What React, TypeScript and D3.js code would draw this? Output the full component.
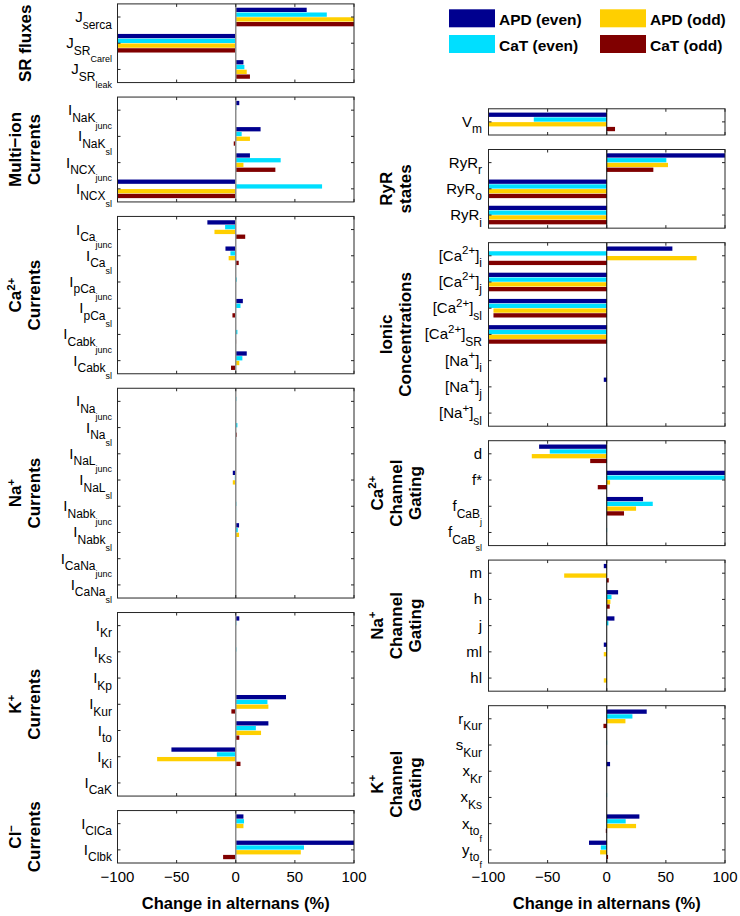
import React from "react";
import * as d3 from "d3";

// ---------- data ----------
const SERIES = ["APD (even)", "CaT (even)", "APD (odd)", "CaT (odd)"];
const X_TICKS = [-100, -50, 0, 50, 100];

const srFluxCats = ["J_{serca}", "J_{SR_{Carel}}", "J_{SR_{leak}}"];
const srFluxVals = [[60, 77, 100, 100], [-100, -100, -100, -100], [6.5, 7.3, 9.3, 12]];

const multiIonCats = ["I_{NaK_{junc}}", "I_{NaK_{sl}}", "I_{NCX_{junc}}", "I_{NCX_{sl}}"];
const multiIonVals = [[3, 0.5, 0, 0], [21, 5, 12, -1.7], [12, 38, 6.5, 33.5], [-100, 73, -100, -100]];

const caCurCats = ["I_{Ca_{junc}}", "I_{Ca_{sl}}", "I_{pCa_{junc}}", "I_{pCa_{sl}}", "I_{Cabk_{junc}}", "I_{Cabk_{sl}}"];
const caCurVals = [[-24, -9, -18, 8], [-8.7, -4.5, -6, 2.5], [0, 0.8, 0, 0], [6, 4, 0, -2.8], [0, 1.4, 0, 0.3], [9.3, 5.6, 3, -4]];

const naCurCats = ["I_{Na_{junc}}", "I_{Na_{sl}}", "I_{NaL_{junc}}", "I_{NaL_{sl}}", "I_{Nabk_{junc}}", "I_{Nabk_{sl}}", "I_{CaNa_{junc}}", "I_{CaNa_{sl}}"];
const naCurVals = [[0, 0.5, 0, 0], [0, 1.4, 0, 0.8], [0, 0, 0, 0], [-2.5, -0.8, -2.5, 0], [0, 0.5, 0, 0], [2.8, 1.7, 2.8, 0], [0, 0, 0, 0], [0, 0, 0, 0]];

const kCurCats = ["I_{Kr}", "I_{Ks}", "I_{Kp}", "I_{Kur}", "I_{to}", "I_{Ki}", "I_{CaK}"];
const kCurVals = [[3, 0.5, 0, 0], [0, 0.5, 0, 0], [0, 0, 0, 0], [42.5, 26.8, 27.6, -3.7], [27.6, 17, 21.4, 3], [-54.4, -16, -66.5, 4], [0, 0, 0, 0]];

const clCurCats = ["I_{ClCa}", "I_{Clbk}"];
const clCurVals = [[6.5, 7, 6.5, 0], [100, 57.7, 55, -10.7]];

const vmCats = ["V_{m}"];
const vmVals = [[-100, -61.7, -100, 7]];

const ryrCats = ["RyR_{r}", "RyR_{o}", "RyR_{i}"];
const ryrVals = [[100, 50.4, 51.8, 39.4], [-100, -100, -100, -100], [-100, -100, -100, -100]];

const ionCats = ["[Ca^{2+}]_{i}", "[Ca^{2+}]_{j}", "[Ca^{2+}]_{sl}", "[Ca^{2+}]_{SR}", "[Na^{+}]_{i}", "[Na^{+}]_{j}", "[Na^{+}]_{sl}"];
const ionVals = [[55.5, -100, 76, -100], [-100, -100, -100, -100], [-100, -100, -95.8, -95.8], [-100, -100, -100, -100], [0, 0, 0, 0], [-2.5, 0, 0, 0], [0, 0, 0, 0]];

const caGateCats = ["d", "f*", "f_{CaB_{j}}", "f_{CaB_{sl}}"];
const caGateVals = [[-57.2, -48.2, -63.4, -14], [100, 100, 2.8, -7.6], [30.7, 38.9, 24.8, 14.6], [0, 0.3, 0, 0]];

const naGateCats = ["m", "h", "j", "ml", "hl"];
const naGateVals = [[-2.5, 0, -36, 1.7], [9.6, 4, 3.1, 2.5], [6.5, 1.4, 0, 0], [-2.5, 0.3, -2.5, 0], [0, 0, -2.5, 0]];

const kGateCats = ["r_{Kur}", "s_{Kur}", "x_{Kr}", "x_{Ks}", "x_{to_{f}}", "y_{to_{f}}"];
const kGateVals = [[33.8, 21.7, 15.8, -2.8], [0, 0.3, 0, 0], [2.8, 0, 0, 0], [0, 0.3, 0, 0], [27.6, 16, 24.8, -0.8], [-15, -5, -5.6, 1.1]];

const leftGroups = [["SR fluxes"], ["Multi\u2212ion", "Currents"], ["Ca^{2+}", "Currents"], ["Na^{+}", "Currents"], ["K^{+}", "Currents"], ["Cl^{\u2212}", "Currents"]];
const rightGroups = [[], ["RyR", "states"], ["Ionic", "Concentrations"], ["Ca^{2+}", "Channel", "Gating"], ["Na^{+}", "Channel", "Gating"], ["K^{+}", "Channel", "Gating"]];

const AXIS_LABEL = "Change in alternans (%)";

// ---------- styles / layout ----------
const COLORS = ["#00008F", "#00DFFF", "#FFCF00", "#800000"];
const FONT = "'Liberation Sans', Arial, Helvetica, sans-serif";
const STEP = 26.22;
const GAP = 14.5;
const BOTTOM = 863;

type Seg = { text: string; level: number };

function parseTex(s: string): Seg[] {
  const out: Seg[] = [];
  function walk(i: number, level: number): number {
    let buf = "";
    const flush = () => {
      if (buf) out.push({ text: buf, level });
      buf = "";
    };
    while (i < s.length) {
      const ch = s[i];
      if (ch === "}") {
        flush();
        return i + 1;
      }
      if (ch === "_" || ch === "^") {
        flush();
        const nl = ch === "_" ? (level >= 0 ? level + 1 : 0) : -1;
        if (s[i + 1] === "{") {
          i = walk(i + 2, nl);
        } else {
          out.push({ text: s[i + 1], level: nl });
          i += 2;
        }
        continue;
      }
      buf += ch;
      i++;
    }
    flush();
    return i;
  }
  walk(0, 0);
  return out;
}

const LEVEL_STYLE: Record<number, { size: number; off: number }> = {
  [-1]: { size: 11.5, off: -6.5 },
  0: { size: 15, off: 0 },
  1: { size: 12, off: 6.5 },
  2: { size: 9, off: 13.5 },
};

function TexText(props: { s: string; x: number; y: number; anchor: string; baseSize?: number; supSize?: number; bold?: boolean; transform?: string }) {
  const segs = parseTex(props.s);
  let prev = 0;
  return (
    <text
      x={props.x}
      y={props.y}
      textAnchor={props.anchor}
      transform={props.transform}
      fontFamily={FONT}
      fontWeight={props.bold ? "bold" : "normal"}
      fill="#000"
    >
      {segs.map((sg, k) => {
        const st = LEVEL_STYLE[sg.level] || LEVEL_STYLE[2];
        let size = st.size;
        if (sg.level === 0 && props.baseSize) size = props.baseSize;
        if (sg.level === -1 && props.supSize) size = props.supSize;
        const dy = st.off - prev;
        prev = st.off;
        return (
          <tspan key={k} dy={dy} fontSize={size}>
            {sg.text}
          </tspan>
        );
      })}
    </text>
  );
}

type PanelDef = { cats: string[]; vals: number[][] };

const leftPanels: PanelDef[] = [
  { cats: srFluxCats, vals: srFluxVals },
  { cats: multiIonCats, vals: multiIonVals },
  { cats: caCurCats, vals: caCurVals },
  { cats: naCurCats, vals: naCurVals },
  { cats: kCurCats, vals: kCurVals },
  { cats: clCurCats, vals: clCurVals },
];
const rightPanels: PanelDef[] = [
  { cats: vmCats, vals: vmVals },
  { cats: ryrCats, vals: ryrVals },
  { cats: ionCats, vals: ionVals },
  { cats: caGateCats, vals: caGateVals },
  { cats: naGateCats, vals: naGateVals },
  { cats: kGateCats, vals: kGateVals },
];

function layout(panels: PanelDef[]) {
  const total = panels.reduce((a, p) => a + p.cats.length * STEP, 0) + GAP * (panels.length - 1);
  let y = BOTTOM - total;
  return panels.map((p) => {
    const top = y;
    const h = p.cats.length * STEP;
    y += h + GAP;
    return { top, bottom: top + h };
  });
}

function Panel(props: { def: PanelDef; top: number; bottom: number; x0: number; x1: number; zeroColor: string; zeroWidth: number; labelX: number }) {
  const { def, top, bottom, x0, x1 } = props;
  const x = d3.scaleLinear().domain([-100, 100]).range([x0, x1]).clamp(true);
  const yCat = d3.scaleBand<string>().domain(def.cats).range([top, bottom]).paddingInner(0.2727).paddingOuter(0.13635);
  const ySub = d3.scaleBand<string>().domain(SERIES).range([0, yCat.bandwidth()]).paddingInner(0.1).paddingOuter(0.05);
  const center = (c: string) => (yCat(c) as number) + yCat.bandwidth() / 2;
  const tl = 3;
  return (
    <g>
      {def.cats.map((c, ci) =>
        def.vals[ci].map((v, si) => {
          const xa = x(Math.min(0, v));
          const xb = x(Math.max(0, v));
          return (
            <rect
              key={c + si}
              x={xa}
              y={(yCat(c) as number) + (ySub(SERIES[si]) as number)}
              width={Math.max(0, xb - xa)}
              height={ySub.bandwidth()}
              fill={COLORS[si]}
            />
          );
        })
      )}
      <line x1={x(0)} x2={x(0)} y1={top} y2={bottom} stroke={props.zeroColor} strokeWidth={props.zeroWidth} />
      <rect x={x0} y={top} width={x1 - x0} height={bottom - top} fill="none" stroke="#262626" strokeWidth={1} />
      {X_TICKS.map((t) => (
        <g key={t}>
          <line x1={x(t)} x2={x(t)} y1={top} y2={top + tl} stroke="#262626" />
          <line x1={x(t)} x2={x(t)} y1={bottom} y2={bottom - tl} stroke="#262626" />
        </g>
      ))}
      {def.cats.map((c) => (
        <g key={"t" + c}>
          <line x1={x0} x2={x0 + tl} y1={center(c)} y2={center(c)} stroke="#262626" />
          <line x1={x1} x2={x1 - tl} y1={center(c)} y2={center(c)} stroke="#262626" />
          <TexText s={c} x={props.labelX} y={center(c) + 5} anchor="end" />
        </g>
      ))}
    </g>
  );
}

function GroupLabel(props: { lines: string[]; cx: number; cy: number }) {
  const n = props.lines.length;
  return (
    <g>
      {props.lines.map((ln, k) => {
        const bx = props.cx + (k - (n - 1) / 2) * 19;
        return (
          <TexText
            key={k}
            s={ln}
            x={0}
            y={0}
            anchor="middle"
            bold
            baseSize={17}
            supSize={11.5}
            transform={`translate(${bx},${props.cy}) rotate(-90)`}
          />
        );
      })}
    </g>
  );
}

function XAxis(props: { x0: number; x1: number; y: number }) {
  const x = d3.scaleLinear().domain([-100, 100]).range([props.x0, props.x1]);
  return (
    <g fontFamily={FONT}>
      {X_TICKS.map((t) => (
        <text key={t} x={x(t)} y={props.y + 18.5} textAnchor="middle" fontSize={15}>
          {t < 0 ? "\u2212" + Math.abs(t) : String(t)}
        </text>
      ))}
      <text x={x(0)} y={props.y + 46} textAnchor="middle" fontSize={16.5} fontWeight="bold">
        {AXIS_LABEL}
      </text>
    </g>
  );
}

export default function App() {
  const L = { x0: 117.5, x1: 354 };
  const R = { x0: 488.5, x1: 725 };
  const lpos = layout(leftPanels);
  const rpos = layout(rightPanels);
  const legendPos = [
    { x: 449, y: 9.3 },
    { x: 449, y: 35 },
    { x: 600, y: 9.3 },
    { x: 600, y: 35 },
  ];
  return (
    <svg width={740} height={916} style={{ position: "absolute", left: 0, top: 0, background: "#fff" }}>
      <rect x={0} y={0} width={740} height={916} fill="#fff" />
      {leftPanels.map((p, i) => (
        <Panel key={"l" + i} def={p} top={lpos[i].top} bottom={lpos[i].bottom} x0={L.x0} x1={L.x1} zeroColor="#8c8c8c" zeroWidth={1.5} labelX={112} />
      ))}
      {rightPanels.map((p, i) => (
        <Panel key={"r" + i} def={p} top={rpos[i].top} bottom={rpos[i].bottom} x0={R.x0} x1={R.x1} zeroColor="#000" zeroWidth={1} labelX={482} />
      ))}
      {leftGroups.map((g, i) => (
        <GroupLabel key={"lg" + i} lines={g} cx={30.5} cy={(lpos[i].top + lpos[i].bottom) / 2} />
      ))}
      {rightGroups.map((g, i) => (
        <GroupLabel key={"rg" + i} lines={g} cx={401.5} cy={(rpos[i].top + rpos[i].bottom) / 2} />
      ))}
      <XAxis x0={L.x0} x1={L.x1} y={BOTTOM} />
      <XAxis x0={R.x0} x1={R.x1} y={BOTTOM} />
      <g fontFamily={FONT}>
        {SERIES.map((s, i) => (
          <g key={s}>
            <rect x={legendPos[i].x} y={legendPos[i].y} width={46} height={18} fill={COLORS[i]} />
            <text x={legendPos[i].x + 50} y={legendPos[i].y + 16} fontSize={15.5} fontWeight="bold">
              {s}
            </text>
          </g>
        ))}
      </g>
    </svg>
  );
}
